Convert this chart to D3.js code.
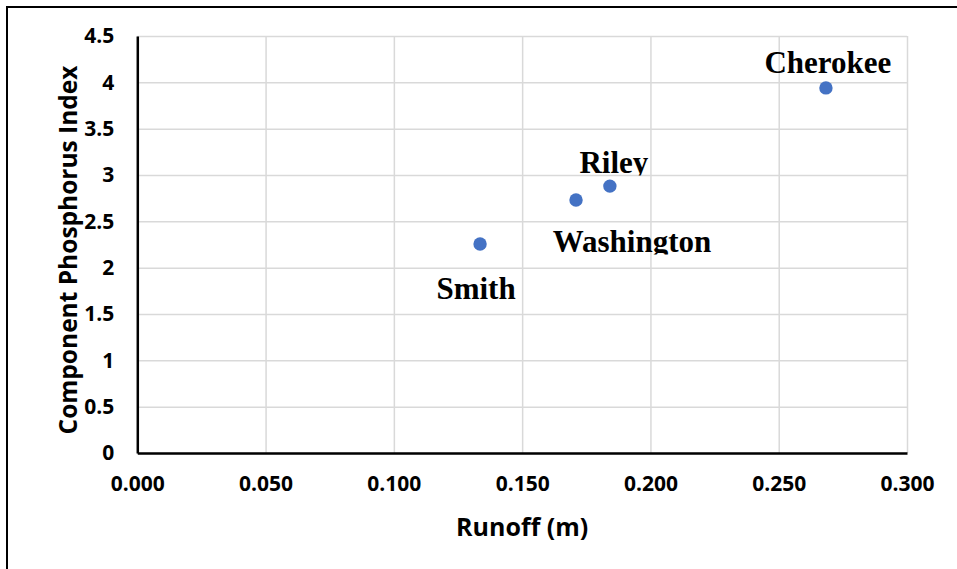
<!DOCTYPE html>
<html>
<head>
<meta charset="utf-8">
<script src="https://cdn.jsdelivr.net/npm/d3@7"></script>
<style>
  html, body { margin: 0; padding: 0; background: #fff; }
  svg { display: block; }
</style>
</head>
<body>
<svg id="chart" width="957" height="569"></svg>
<script>
// County data: runoff depth (m) vs. component phosphorus index
const counties = ["Cherokee", "Riley", "Washington", "Smith"];
const runoff = [0.2684, 0.1842, 0.171, 0.1336];
const phosphorusIndex = [3.94, 2.88, 2.73, 2.255];

const xTicks = [0, 0.05, 0.1, 0.15, 0.2, 0.25, 0.3];
const yTicks = [0, 0.5, 1, 1.5, 2, 2.5, 3, 3.5, 4, 4.5];

// Label placement relative to each point (dx, dy of baseline centre; clip below baseline)
const labelLayout = {
  Cherokee:   { dx: 2,  dy: -15, clip: false },
  Riley:      { dx: 4,  dy: -13, clip: true },
  Washington: { dx: 56, dy: 52,  clip: true },
  Smith:      { dx: -4, dy: 55,  clip: false }
};

const W = 957, H = 569;
const plot = { left: 137.3, right: 907, top: 36, bottom: 453 };

const svg = d3.select("#chart");

// Outer frame (top and left edges)
svg.append("line").attr("x1", 7).attr("x2", W).attr("y1", 7).attr("y2", 7)
  .attr("stroke", "#000").attr("stroke-width", 2);
svg.append("line").attr("x1", 7).attr("x2", 7).attr("y1", 6).attr("y2", H)
  .attr("stroke", "#000").attr("stroke-width", 2);

const x = d3.scaleLinear().domain([0, 0.3]).range([plot.left, plot.right]);
const y = d3.scaleLinear().domain([0, 4.5]).range([plot.bottom, plot.top]);

const sansFont = "'Open Sans', 'Noto Sans', sans-serif";

// Gridlines
svg.append("g")
  .attr("transform", `translate(0,${plot.bottom})`)
  .call(d3.axisBottom(x).tickValues(xTicks).tickSize(-(plot.bottom - plot.top)).tickFormat(""))
  .call(g => g.select(".domain").remove())
  .call(g => g.selectAll("line").attr("stroke", "#d9d9d9").attr("stroke-width", 1.5));
svg.append("g")
  .attr("transform", `translate(${plot.left},0)`)
  .call(d3.axisLeft(y).tickValues(yTicks).tickSize(-(plot.right - plot.left)).tickFormat(""))
  .call(g => g.select(".domain").remove())
  .call(g => g.selectAll("line").attr("stroke", "#d9d9d9").attr("stroke-width", 1.5));

// Axes
const xAxis = svg.append("g")
  .attr("transform", `translate(0,${plot.bottom})`)
  .call(d3.axisBottom(x).tickValues(xTicks).tickSize(0).tickPadding(23).tickFormat(d3.format(".3f")));
xAxis.select(".domain").attr("stroke", "#000").attr("stroke-width", 2.5);
xAxis.selectAll("text").attr("font-family", sansFont).attr("font-weight", "bold")
  .attr("font-size", 21).attr("fill", "#000");

const yAxis = svg.append("g")
  .attr("transform", `translate(${plot.left},0)`)
  .call(d3.axisLeft(y).tickValues(yTicks).tickSize(0).tickPadding(23).tickFormat(d => String(d)));
yAxis.select(".domain").attr("stroke", "#000").attr("stroke-width", 2.5);
yAxis.selectAll("text").attr("font-family", sansFont).attr("font-weight", "bold")
  .attr("font-size", 21).attr("fill", "#000");

// Axis titles
svg.append("text")
  .attr("x", (plot.left + plot.right) / 2).attr("y", 536)
  .attr("text-anchor", "middle")
  .attr("font-family", sansFont).attr("font-weight", "bold").attr("font-size", 25)
  .text("Runoff (m)");
svg.append("text")
  .attr("transform", "translate(77,250) rotate(-90)")
  .attr("text-anchor", "middle")
  .attr("font-family", sansFont).attr("font-weight", "bold").attr("font-size", 24.5)
  .text("Component Phosphorus Index");

// Points
const data = counties.map((name, i) => ({ name, runoff: runoff[i], pi: phosphorusIndex[i] }));

svg.append("g").selectAll("circle").data(data).join("circle")
  .attr("cx", d => x(d.runoff))
  .attr("cy", d => y(d.pi))
  .attr("r", 6.7)
  .attr("fill", "#4472C4");

// Data labels
const defs = svg.append("defs");
const labels = svg.append("g");
data.forEach((d, i) => {
  const lay = labelLayout[d.name];
  const cx = x(d.runoff) + lay.dx;
  const by = y(d.pi) + lay.dy;
  const t = labels.append("text")
    .attr("x", cx).attr("y", by)
    .attr("text-anchor", "middle")
    .attr("font-family", "'Liberation Serif', 'Times New Roman', serif")
    .attr("font-weight", "bold").attr("font-size", 31)
    .attr("fill", "#000")
    .text(d.name);
  if (lay.clip) {
    const id = "clip-" + i;
    defs.append("clipPath").attr("id", id)
      .append("rect").attr("x", cx - 150).attr("y", by - 60).attr("width", 300).attr("height", 62.5);
    t.attr("clip-path", `url(#${id})`);
  }
});
</script>
</body>
</html>
